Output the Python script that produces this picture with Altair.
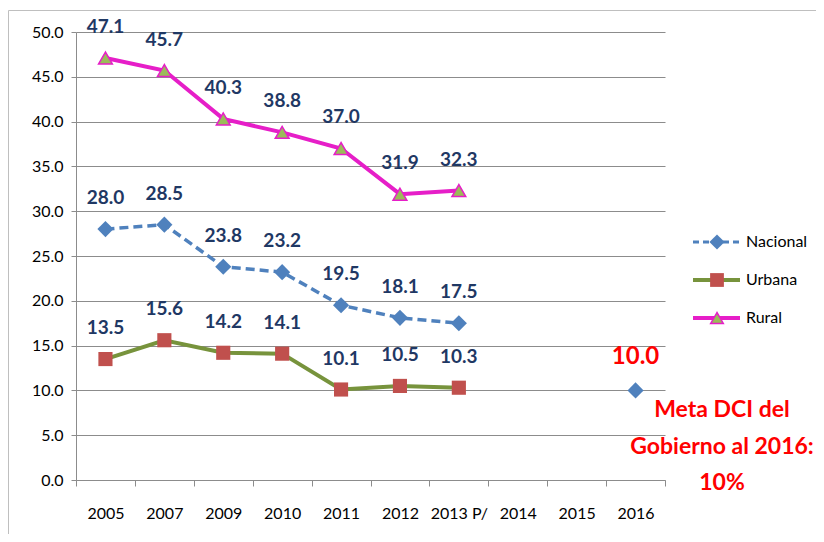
import altair as alt
import pandas as pd

years = ["2005", "2007", "2009", "2010", "2011", "2012", "2013 P/", "2014", "2015", "2016"]
obs_years = ["2005", "2007", "2009", "2010", "2011", "2012", "2013 P/"]
nacional = [28.0, 28.5, 23.8, 23.2, 19.5, 18.1, 17.5]
urbana = [13.5, 15.6, 14.2, 14.1, 10.1, 10.5, 10.3]
rural = [47.1, 45.7, 40.3, 38.8, 37.0, 31.9, 32.3]
meta_year = ["2016"]
meta_value = [10.0]
y_ticks = [0, 5, 10, 15, 20, 25, 30, 35, 40, 45, 50]
legend_names = ["Nacional", "Urbana", "Rural"]
annotation_lines = ["Meta DCI del", "Gobierno al 2016:", "10%"]

FONT = "Lato"
NAVY = "#1F3864"
BLUE = "#4F81BD"
GREEN = "#77933C"
RED_SQ = "#C0504D"
MAGENTA = "#E61EC8"
TRI_FILL = "#9BBB59"
GRID = "#8C8C8C"

W, H = 589, 448

xenc = alt.X(
    "year:N",
    sort=years,
    bandPosition=0.5,
    scale=alt.Scale(domain=years, type="band", paddingInner=0, paddingOuter=0),
    axis=alt.Axis(
        title=None, tickBand="extent", labelAngle=0, labelFontSize=16, labelFont=FONT,
        labelColor="#000000", domainColor=GRID, tickColor=GRID, tickSize=6,
        labelPadding=19, grid=False,
    ),
)
yenc = alt.Y(
    "value:Q",
    scale=alt.Scale(domain=[0, 50], nice=False),
    axis=alt.Axis(
        title=None, values=y_ticks, format=".1f", labelFontSize=16, labelFont=FONT,
        labelColor="#000000", domainColor=GRID, tickColor=GRID, tickSize=5,
        labelPadding=8, grid=True, gridColor=GRID, gridOpacity=1, gridWidth=1.2,
    ),
)


def frame(vals, yrs):
    return pd.DataFrame({"year": yrs, "value": vals})


df_n = frame(nacional, obs_years)
df_u = frame(urbana, obs_years)
df_r = frame(rural, obs_years)
df_m = frame(meta_value, meta_year)

layers = []

# Lines
layers.append(alt.Chart(df_n).mark_line(color=BLUE, strokeWidth=3.5, strokeDash=[9, 5]).encode(x=xenc, y=yenc))
layers.append(alt.Chart(df_u).mark_line(color=GREEN, strokeWidth=4).encode(x=xenc, y=yenc))
layers.append(alt.Chart(df_r).mark_line(color=MAGENTA, strokeWidth=4).encode(x=xenc, y=yenc))

# Points
layers.append(alt.Chart(df_n).mark_point(shape="diamond", filled=True, color=BLUE, size=260, opacity=1).encode(x=xenc, y=yenc))
layers.append(alt.Chart(df_m).mark_point(shape="diamond", filled=True, color=BLUE, size=260, opacity=1).encode(x=xenc, y=yenc))
layers.append(alt.Chart(df_u).mark_point(shape="square", filled=True, color=RED_SQ, size=200, opacity=1).encode(x=xenc, y=yenc))
layers.append(alt.Chart(df_r).mark_point(shape="triangle-up", filled=True, fill=TRI_FILL, stroke=MAGENTA, strokeWidth=1.5, size=190, opacity=1).encode(x=xenc, y=yenc))

# Data labels
for d in (df_n, df_u, df_r):
    layers.append(
        alt.Chart(d).mark_text(font=FONT, fontSize=19, fontWeight="bold", color=NAVY, dy=-31, baseline="middle")
        .encode(x=xenc, y=yenc, text=alt.Text("value:Q", format=".1f"))
    )
layers.append(
    alt.Chart(df_m).mark_text(font=FONT, fontSize=24, fontWeight="bold", color="#FF0000", dy=-33, baseline="middle")
    .encode(x=xenc, y=yenc, text=alt.Text("value:Q", format=".1f"))
)

# Manual legend
dummy = pd.DataFrame({"a": [0]})
leg_y = [210, 248, 286]
leg_styles = [
    dict(color=BLUE, dash=[6, 4], width=3),
    dict(color=GREEN, dash=[1, 0], width=4),
    dict(color=MAGENTA, dash=[1, 0], width=4),
]
for name, yy, st in zip(legend_names, leg_y, leg_styles):
    layers.append(
        alt.Chart(dummy).mark_rule(color=st["color"], strokeWidth=st["width"], strokeDash=st["dash"])
        .encode(x=alt.value(617), x2=alt.value(664), y=alt.value(yy))
    )
    layers.append(
        alt.Chart(dummy).mark_text(font=FONT, fontSize=16, color="#000000", align="left", baseline="middle")
        .encode(x=alt.value(670), y=alt.value(yy), text=alt.value(name))
    )
layers.append(alt.Chart(dummy).mark_point(shape="diamond", filled=True, color=BLUE, size=230, opacity=1).encode(x=alt.value(641), y=alt.value(leg_y[0])))
layers.append(alt.Chart(dummy).mark_point(shape="square", filled=True, color=RED_SQ, size=190, opacity=1).encode(x=alt.value(641), y=alt.value(leg_y[1])))
layers.append(alt.Chart(dummy).mark_point(shape="triangle-up", filled=True, fill=TRI_FILL, stroke=MAGENTA, strokeWidth=1.5, size=160, opacity=1).encode(x=alt.value(641), y=alt.value(leg_y[2])))

# Annotation
for line, yy in zip(annotation_lines, [378, 415, 451]):
    layers.append(
        alt.Chart(dummy).mark_text(font=FONT, fontSize=23, fontWeight="bold", color="#FF0000", align="center", baseline="middle")
        .encode(x=alt.value(646), y=alt.value(yy), text=alt.value(line))
    )

# Outer border lines
layers.append(alt.Chart(dummy).mark_rule(color="#BFBFBF", strokeWidth=1).encode(x=alt.value(-67.5), y=alt.value(-21.5), y2=alt.value(520)))
layers.append(alt.Chart(dummy).mark_rule(color="#BFBFBF", strokeWidth=1).encode(x=alt.value(-67.5), x2=alt.value(760), y=alt.value(-21.5)))

chart = (
    alt.layer(*layers)
    .properties(
        width=W, height=H,
        autosize=alt.AutoSizeParams(type="none"),
        padding={"left": 68, "top": 24, "right": 151, "bottom": 54},
        background="#FFFFFF",
    )
    .configure_view(stroke=None)
)

chart.save("out.html", embed_options={"renderer": "svg", "actions": False})
